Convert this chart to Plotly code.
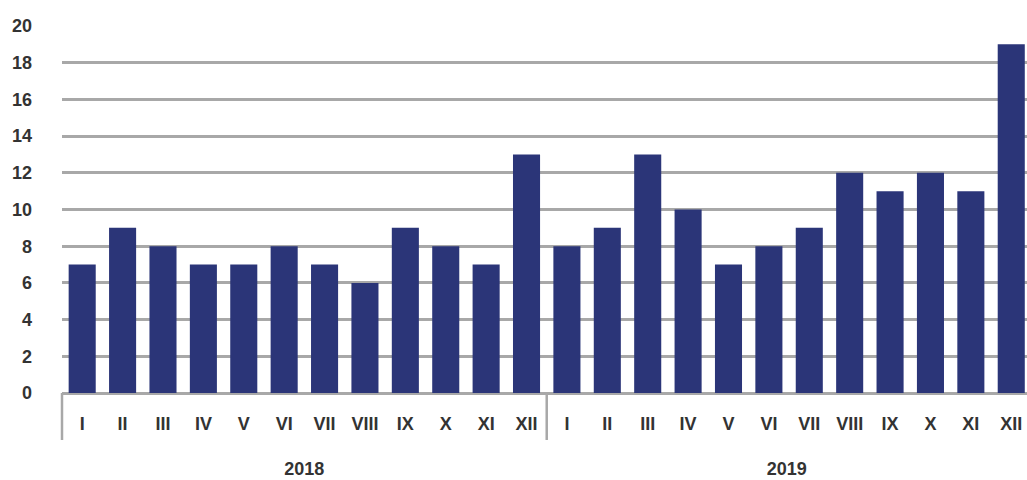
import plotly.graph_objects as go
from plotly.subplots import make_subplots

years = ["2018", "2019"]
months = ["I", "II", "III", "IV", "V", "VI", "VII", "VIII", "IX", "X", "XI", "XII"]
values_2018 = [7, 9, 8, 7, 7, 8, 7, 6, 9, 8, 7, 13]
values_2019 = [8, 9, 13, 10, 7, 8, 9, 12, 11, 12, 11, 19]
y_ticks = list(range(0, 21, 2))

BAR = "#2B3578"
GRID = "#A8A8A8"
font = dict(family="Liberation Sans", size=18, color="#333333", weight="bold")

fig = make_subplots(rows=1, cols=2, shared_yaxes=True, horizontal_spacing=0,
                    column_widths=[12, 11.89])

for i, (yr, vals) in enumerate(zip(years, [values_2018, values_2019])):
    fig.add_trace(
        go.Bar(x=months, y=vals, name=yr, width=0.67,
               marker=dict(color=BAR, line=dict(width=0))),
        row=1, col=i + 1,
    )

fig.update_layout(
    width=1027,
    height=480,
    margin=dict(l=62, r=0, t=26, b=87),
    plot_bgcolor="white",
    paper_bgcolor="white",
    showlegend=False,
    font=font,
)
fig.update_yaxes(
    range=[0, 20],
    tickvals=y_ticks,
    showgrid=True,
    gridcolor=GRID,
    gridwidth=2.5,
    zeroline=True,
    zerolinecolor=GRID,
    zerolinewidth=2.5,
    ticks="",
    automargin=False,
    tickfont=font,
)
fig.update_yaxes(ticklabelstandoff=29, row=1, col=1)

for i, yr in enumerate(years):
    fig.update_xaxes(
        type="category",
        range=[-0.5, 11.5 if i == 0 else 11.39],
        showgrid=False,
        showline=False,
        ticks="",
        automargin=False,
        tickfont=font,
        ticklabelstandoff=18,
        title=dict(text=yr, font=font, standoff=29),
        row=1, col=i + 1,
    )
    xref = "x domain" if i == 0 else "x2 domain"
    fig.add_shape(type="line", xref=xref, yref="paper", x0=0, x1=0,
                  y0=0, y1=-0.128, line=dict(color=GRID, width=2.5))

fig.write_html(
    "out.html",
    config={"displayModeBar": False},
    post_script="document.body.style.margin='0';document.body.style.overflow='hidden';",
)
